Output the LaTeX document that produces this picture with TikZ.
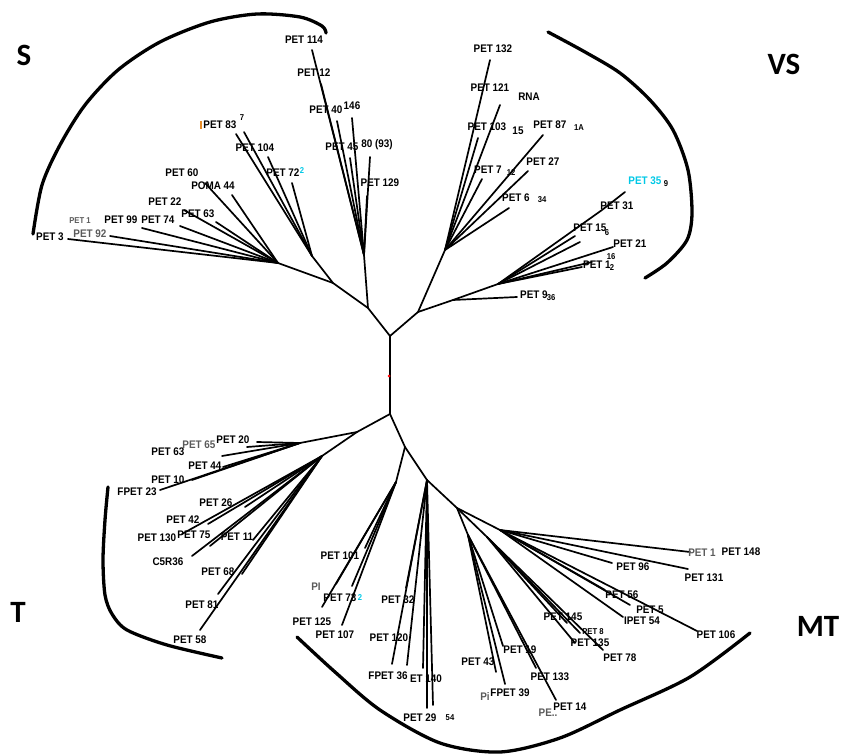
\documentclass[tikz,border=0pt]{standalone}
\usepackage{fontspec}
\setmainfont{Liberation Sans}
\newfontfamily\labfont[FakeStretch=0.9]{Liberation Sans}
\newfontfamily\cladefont{Carlito}
\definecolor{cyanlab}{RGB}{0,200,230}
\definecolor{orangelab}{RGB}{230,140,40}
\definecolor{greylab}{RGB}{90,90,90}
\begin{document}
\begin{tikzpicture}[x=1pt,y=-1pt,
  br/.style={line width=1.7pt,line cap=round},
  lab/.style={font=\labfont\bfseries\fontsize{11}{11}\selectfont,inner sep=0pt},
  tinylab/.style={font=\labfont\bfseries\fontsize{8.5}{8.5}\selectfont,inner sep=0pt},
  faint/.style={lab,text=greylab},
  arcline/.style={line width=3.3pt,line cap=round},
  clade/.style={font=\cladefont\bfseries\fontsize{31}{31}\selectfont,inner sep=0pt}]
\useasboundingbox (0,0) rectangle (844,754);

% ---------- centre ----------
\coordinate (T0) at (390,336);
\coordinate (B0) at (390,414);
\draw[br] (T0) -- (B0);
\node[circle,fill=red,inner sep=0pt,minimum size=3pt] (root) at (389,376) {};

% ---------- S clade ----------
\coordinate (s0) at (368,308);
\coordinate (s1) at (364,255);
\coordinate (s2) at (333,283);
\coordinate (s3) at (312,256);
\coordinate (s4) at (278,263);
\draw[br] (T0) -- (s0) -- (s1);
\draw[br] (s0) -- (s2) -- (s3);
\draw[br] (s2) -- (s4);

\coordinate (e114) at (312,50);
\coordinate (e12) at (321,84);
\coordinate (e40) at (337,121);
\coordinate (e146) at (352,118);
\coordinate (e45) at (350,158);
\coordinate (e80) at (370,157);
\coordinate (e129) at (367,196);
\foreach \e in {e114,e12,e40,e146,e45,e80,e129} \draw[br] (s1) -- (\e);
\node[lab] (n114) at (304,40) {PET 114};
\node[lab] (n12) at (314,73) {PET 12};
\node[lab] (n40) at (326,110) {PET 40};
\node[lab] (n146) at (352,106) {146};
\node[lab] (n45) at (342,147) {PET 45};
\node[lab] (n80) at (377,145) {80 (93)};
\node[lab] (n129) at (380,183) {PET 129};

\coordinate (e83) at (236,134);
\coordinate (e117) at (244,132);
\coordinate (e104) at (268,157);
\coordinate (e72) at (292,183);
\foreach \e in {e83,e117,e104,e72} \draw[br] (s3) -- (\e);
\node[fill=orangelab,minimum width=2pt,minimum height=8pt,inner sep=0pt] (bar83) at (201,125) {};
\node[lab] (n83) at (220,125) {PET 83};
\node[tinylab] (n117) at (242,118) {7};
\node[lab] (n104) at (255,148) {PET 104};
\node[lab] (n72) at (283,173) {PET 72};
\node[tinylab,text=cyanlab] (n72b) at (302,171) {2};

\coordinate (e60) at (205,183);
\coordinate (e44) at (232,195);
\coordinate (e22) at (184,210);
\coordinate (e63) at (216,222);
\coordinate (e74) at (180,226);
\coordinate (e99) at (142,228);
\coordinate (e92) at (110,236);
\coordinate (e3) at (68,239);
\foreach \e in {e60,e44,e22,e63,e74,e99,e92,e3} \draw[br] (s4) -- (\e);
\node[lab] (n60) at (182,173) {PET 60};
\node[lab] (n44) at (213,186) {POMA 44};
\node[lab] (n22) at (165,202) {PET 22};
\node[lab] (n63) at (198,214) {PET 63};
\node[lab] (n74) at (158,220) {PET 74};
\node[lab] (n99) at (121,220) {PET 99};
\node[tinylab,text=greylab] (n1x) at (80,221) {PET 1};
\node[faint] (n92) at (90,234) {PET 92};
\node[lab] (n3) at (50,237) {PET 3};

% ---------- VS clade ----------
\coordinate (v0) at (418,312);
\coordinate (v1) at (445,250);
\coordinate (v2) at (453,300);
\coordinate (v5) at (498,284);
\coordinate (v4) at (602,210);
\draw[br] (T0) -- (v0) -- (v1);
\draw[br] (v0) -- (v2) -- (v5);

\coordinate (e132) at (490,60);
\coordinate (eRNA) at (500,105);
\coordinate (e103) at (478,138);
\coordinate (e7) at (482,179);
\coordinate (e87) at (543,135);
\coordinate (e27) at (528,171);
\coordinate (e6) at (509,208);
\foreach \e in {e132,eRNA,e103,e7,e87,e27,e6} \draw[br] (v1) -- (\e);
\node[lab] (n132) at (493,49) {PET 132};
\node[lab] (n121) at (490,88) {PET 121};
\node[lab] (nRNA) at (529,97) {RNA};
\node[lab] (n103) at (487,127) {PET 103};
\node[lab] (n15a) at (518,131) {15};
\node[lab] (n7) at (488,170) {PET 7};
\node[tinylab] (n7b) at (511,173) {12};
\node[lab] (n87) at (550,125) {PET 87};
\node[tinylab] (n87b) at (579,128) {1A};
\node[lab] (n27) at (543,162) {PET 27};
\node[lab] (n6) at (516,198) {PET 6};
\node[tinylab] (n6b) at (542,200) {34};

\coordinate (e9) at (517,297);
\draw[br] (v2) -- (e9);
\node[lab] (n9) at (534,295) {PET 9};
\node[tinylab] (n9b) at (551,298) {36};

\coordinate (e35) at (625,192);
\coordinate (e15) at (575,236);
\coordinate (e14) at (580,242);
\coordinate (e2) at (613,247);
\coordinate (e1) at (582,267);
\coordinate (e16) at (592,262);
\draw[br] (v5) -- (v4) -- (e35);
\foreach \e in {e15,e14,e2,e1,e16} \draw[br] (v5) -- (\e);
\node[lab,text=cyanlab] (n35) at (645,181) {PET 35};
\node[tinylab] (n35b) at (666,184) {9};
\node[lab] (n31) at (617,206) {PET 31};
\node[lab] (n15) at (590,228) {PET 15};
\node[tinylab] (n15b) at (607,233) {6};
\node[lab] (n2) at (630,244) {PET 21};
\node[lab] (n1) at (597,265) {PET 1};
\node[tinylab] (n1b) at (612,268) {2};
\node[tinylab] (n16) at (611,257) {16};

% ---------- T clade ----------
\coordinate (b1) at (357,432);
\coordinate (t1) at (300,443);
\coordinate (b3) at (322,456);
\draw[br] (B0) -- (b1) -- (t1);
\draw[br] (b1) -- (b3);

\coordinate (e20) at (257,442);
\coordinate (e65) at (247,447);
\coordinate (e63b) at (222,456);
\coordinate (e44b) at (223,467);
\coordinate (e10) at (192,480);
\coordinate (e23) at (160,490);
\foreach \e in {e20,e65,e63b,e44b,e10,e23} \draw[br] (t1) -- (\e);
\node[lab] (n20) at (233,440) {PET 20};
\node[faint] (n65) at (199,445) {PET 65};
\node[lab] (n63b) at (168,452) {PET 63};
\node[lab] (n44b) at (205,466) {PET 44};
\node[lab] (n10) at (168,480) {PET 10};
\node[lab] (n23) at (137,492) {FPET 23};

\coordinate (e26) at (245,507);
\coordinate (e4) at (208,524);
\coordinate (e130) at (182,534);
\coordinate (e75) at (210,546);
\coordinate (e11) at (253,540);
\coordinate (eC5) at (192,556);
\coordinate (e68) at (242,574);
\coordinate (e81) at (218,594);
\coordinate (e58) at (200,630);
\foreach \e in {e26,e4,e130,e75,e11,eC5,e68,e81,e58} \draw[br] (b3) -- (\e);
\node[lab] (n26) at (216,503) {PET 26};
\node[lab] (n4) at (183,520) {PET 42};
\node[lab] (n130) at (157,538) {PET 130};
\node[lab] (n75) at (194,535) {PET 75};
\node[lab] (n11) at (237,537) {PET 11};
\node[lab] (nC5) at (168,562) {C5R36};
\node[lab] (n68) at (218,572) {PET 68};
\node[lab] (n81) at (202,605) {PET 81};
\node[lab] (n58) at (190,640) {PET 58};

% ---------- MT clade ----------
\coordinate (b2) at (405,447);
\coordinate (b5) at (396,482);
\coordinate (b4) at (427,480);
\draw[br] (B0) -- (b2) -- (b5);
\draw[br] (b2) -- (b4);

\coordinate (e101) at (365,548);
\coordinate (ePI) at (336,584);
\coordinate (e73) at (352,586);
\coordinate (e125) at (322,607);
\coordinate (e107) at (342,625);
\foreach \e in {e101,ePI,e73,e125,e107} \draw[br] (b5) -- (\e);
\node[lab] (n101) at (340,556) {PET 101};
\node[faint] (nPI) at (316,587) {PI};
\node[lab] (n73) at (340,598) {PET 73};
\node[tinylab,text=cyanlab] (n73b) at (360,598) {2};
\node[lab] (n125) at (312,622) {PET 125};
\node[lab] (n107) at (335,635) {PET 107};

\coordinate (e32) at (406,588);
\coordinate (e120) at (407,665);
\coordinate (e36) at (392,664);
\coordinate (e140) at (423,668);
\coordinate (e29) at (427,708);
\coordinate (e29b) at (433,705);
\foreach \e in {e32,e120,e36,e140,e29,e29b} \draw[br] (b4) -- (\e);
\node[lab] (n32) at (398,600) {PET 32};
\node[lab] (n120) at (389,638) {PET 120};
\node[lab] (n36) at (388,676) {FPET 36};
\node[lab] (n140) at (426,679) {ET 140};
\node[lab] (n29) at (420,718) {PET 29};
\node[tinylab] (n29b) at (450,718) {54};

\coordinate (m1) at (457,508);
\coordinate (m2) at (468,535);
\coordinate (m3) at (487,537);
\coordinate (m4) at (500,530);
\draw[br] (b4) -- (m1) -- (m2);
\draw[br] (m1) -- (m3);
\draw[br] (m1) -- (m4);

\coordinate (e19) at (503,646);
\coordinate (e43) at (496,672);
\coordinate (e39) at (505,684);
\coordinate (e133) at (536,668);
\coordinate (e14b) at (556,700);
\foreach \e in {e19,e43,e39,e133,e14b} \draw[br] (m2) -- (\e);
\node[lab] (n19) at (520,650) {PET 19};
\node[lab] (n43) at (478,662) {PET 43};
\node[lab] (n39) at (510,693) {FPET 39};
\node[faint] (n39b) at (485,697) {Pi};
\node[lab] (n133) at (550,677) {PET 133};
\node[lab] (n14b) at (570,707) {PET 14};
\node[faint] (n14c) at (548,713) {PE..};

\coordinate (e145) at (567,623);
\coordinate (e8) at (580,633);
\coordinate (e135) at (575,643);
\coordinate (e78) at (603,650);
\foreach \e in {e145,e8,e135,e78} \draw[br] (m3) -- (\e);
\node[lab] (n145) at (563,617) {PET 145};
\node[tinylab] (n8) at (593,632) {PET 8};
\node[lab] (n135) at (590,643) {PET 135};
\node[lab] (n78) at (620,658) {PET 78};

\coordinate (e148) at (690,552);
\coordinate (e96) at (612,563);
\coordinate (e131) at (688,569);
\coordinate (e56) at (605,590);
\coordinate (e5) at (630,605);
\coordinate (e54) at (623,617);
\coordinate (e106) at (697,631);
\foreach \e in {e148,e96,e131,e56,e5,e54,e106} \draw[br] (m4) -- (\e);
\node[faint] (n1y) at (702,553) {PET 1};
\node[lab] (n148) at (741,552) {PET 148};
\node[lab] (n96) at (633,567) {PET 96};
\node[lab] (n131) at (704,578) {PET 131};
\node[lab] (n56) at (622,595) {PET 56};
\node[lab] (n5) at (650,610) {PET 5};
\node[lab] (n54) at (642,621) {IPET 54};
\node[lab] (n106) at (716,635) {PET 106};

% ---------- clade arcs ----------
\draw[arcline] plot[smooth] coordinates {(33,234) (42,185) (60,145) (85,105) (118,70) (160,42) (210,22) (257,14) (300,17) (322,26) (326,33)};
\draw[arcline] plot[smooth] coordinates {(548,32) (585,52) (620,73) (650,100) (673,130) (688,170) (692,213) (687,240) (667,263) (645,278)};
\draw[arcline] plot[smooth] coordinates {(108,487) (105,520) (103,560) (105,595) (112,614) (127,630) (167,645) (222,658)};
\draw[arcline] plot[smooth] coordinates {(297,637) (335,672) (380,710) (440,743) (500,752) (560,738) (620,710) (690,677) (750,633)};

\node[clade] (cS) at (24,55) {S};
\node[clade] (cVS) at (784,64) {VS};
\node[clade] (cT) at (18,612) {T};
\node[clade] (cMT) at (818,626) {MT};
\end{tikzpicture}
\end{document}
